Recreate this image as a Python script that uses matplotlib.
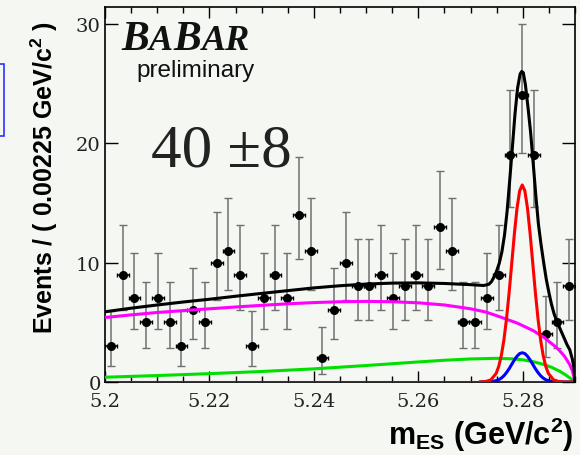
import numpy as np
import matplotlib
matplotlib.use("Agg")
import matplotlib.pyplot as plt
from matplotlib.ticker import MultipleLocator, FuncFormatter
from matplotlib.patches import Rectangle

plt.rcParams['mathtext.fontset'] = 'custom'
plt.rcParams['mathtext.rm'] = 'Liberation Sans:bold'
plt.rcParams['mathtext.bf'] = 'Liberation Sans:bold'
plt.rcParams['mathtext.it'] = 'Liberation Sans:bold'

# data: mES histogram, 40 bins of 0.00225 GeV from 5.2 to 5.29
bin_lo = 5.2
bin_w = 0.00225
counts = [3, 9, 7, 5, 7, 5, 3, 6, 5, 10, 11, 9, 3, 7, 9, 7, 14, 11, 2, 6,
          10, 8, 8, 9, 7, 8, 9, 8, 13, 11, 5, 5, 7, 9, 19, 24, 19, 4, 5, 8]
err_lo = [1.63, 2.94, 2.58, 2.16, 2.58, 2.16, 1.63, 2.38, 2.16, 3.11, 3.27, 2.94, 1.63, 2.58, 2.94, 2.58, 3.70, 3.27, 1.29, 2.38,
          3.11, 2.77, 2.77, 2.94, 2.58, 2.77, 2.94, 2.77, 3.56, 3.27, 2.16, 2.16, 2.58, 2.94, 4.32, 4.86, 4.32, 1.91, 2.16, 2.77]
err_hi = [2.92, 4.11, 3.77, 3.38, 3.77, 3.38, 2.92, 3.58, 3.38, 4.27, 4.42, 4.11, 2.92, 3.77, 4.11, 3.77, 4.83, 4.42, 2.64, 3.58,
          4.27, 3.94, 3.94, 4.11, 3.77, 3.94, 4.11, 3.94, 4.70, 4.42, 3.38, 3.38, 3.77, 4.11, 5.44, 5.97, 5.44, 3.16, 3.38, 3.94]

# fit curves
blk_x = [5.200, 5.205, 5.210, 5.215, 5.220, 5.225, 5.230, 5.235, 5.240, 5.245, 5.250, 5.255, 5.260, 5.265, 5.270,
         5.2725, 5.2735, 5.2740, 5.2745, 5.2750, 5.2755, 5.2760, 5.2765, 5.2770, 5.2775, 5.2780, 5.2785, 5.2790, 5.2795,
         5.2798, 5.2801, 5.2805, 5.2810, 5.2815, 5.2820, 5.2825, 5.2830, 5.2835, 5.2840, 5.2845, 5.2850, 5.2855, 5.2860,
         5.2865, 5.2870, 5.2875, 5.2880, 5.2885, 5.2890, 5.2895, 5.2898, 5.2900]
blk_y = [5.88, 6.18, 6.45, 6.70, 6.93, 7.18, 7.42, 7.65, 7.88, 8.06, 8.20, 8.28, 8.30, 8.25, 8.15,
         8.08, 8.18, 8.40, 8.80, 9.30, 9.95, 10.9, 12.3, 14.3, 16.9, 19.6, 22.4, 24.6, 25.8,
         26.0, 25.9, 24.9, 23.0, 20.9, 18.3, 15.6, 13.2, 11.5, 10.0, 8.6, 7.5, 6.5, 5.7,
         5.1, 4.6, 4.1, 3.6, 3.1, 2.7, 1.9, 1.2, 0.0]

mag_x = [5.200, 5.205, 5.210, 5.215, 5.220, 5.225, 5.230, 5.235, 5.240, 5.245, 5.250, 5.255, 5.260, 5.265, 5.270,
         5.273, 5.276, 5.279, 5.282, 5.284, 5.286, 5.287, 5.288, 5.289, 5.2895, 5.290]
mag_y = [5.40, 5.62, 5.82, 5.98, 6.13, 6.28, 6.42, 6.55, 6.65, 6.72, 6.75, 6.72, 6.63, 6.45, 6.13,
         5.85, 5.40, 4.92, 4.30, 3.75, 3.05, 2.65, 2.15, 1.45, 0.95, 0.0]

grn_x = [5.200, 5.210, 5.220, 5.230, 5.240, 5.250, 5.255, 5.260, 5.265, 5.270, 5.275, 5.278, 5.280, 5.282,
         5.284, 5.2855, 5.287, 5.288, 5.289, 5.2895, 5.290]
grn_y = [0.40, 0.54, 0.70, 0.88, 1.10, 1.38, 1.53, 1.68, 1.82, 1.93, 1.98, 1.94, 1.86, 1.70,
         1.47, 1.23, 0.92, 0.65, 0.35, 0.18, 0.0]

red_x = [5.2719, 5.2729, 5.2739, 5.2749, 5.2754, 5.2759, 5.2764, 5.2769, 5.2774, 5.2779, 5.2784, 5.2789, 5.2794,
         5.2799, 5.2804, 5.2809, 5.2814, 5.2819, 5.2824, 5.2829, 5.2834, 5.2839, 5.2844, 5.2849, 5.2859, 5.2869,
         5.2879, 5.2900]
red_y = [0, 0.04, 0.18, 0.72, 1.31, 2.23, 3.57, 5.36, 7.55, 10.0, 12.45, 14.56, 16.0,
         16.5, 16.0, 14.56, 12.45, 10.0, 7.55, 5.36, 3.57, 2.23, 1.31, 0.72, 0.18, 0.04,
         0, 0]
blu_y = [0, 0.01, 0.03, 0.11, 0.19, 0.33, 0.53, 0.80, 1.12, 1.49, 1.85, 2.16, 2.38,
         2.45, 2.38, 2.16, 1.85, 1.49, 1.12, 0.80, 0.53, 0.33, 0.19, 0.11, 0.03, 0.01,
         0, 0]

bg = '#f4f7f2'
fig = plt.figure(figsize=(5.8, 4.56), dpi=100, facecolor=bg)
ax = fig.add_axes([105/580, 73/456, 470/580, 375/456], facecolor=bg)

centers = bin_lo + bin_w*(np.arange(len(counts)) + 0.5)
ax.errorbar(centers, counts, yerr=[err_lo, err_hi], fmt='none', ecolor='#707070',
            elinewidth=1.1, capsize=3, capthick=1.0, zorder=2)
ax.errorbar(centers, counts, xerr=bin_w/2, fmt='o', color='black', ms=5.5,
            ecolor='black', elinewidth=1.1, capsize=1.5, capthick=1.0, zorder=3)

ax.plot([5.2, 5.29], [0, 0], color='#a0002a', lw=2.2, zorder=4, solid_capstyle='butt')
ax.plot(grn_x, grn_y, color='#00e000', lw=2.2, zorder=5)
ax.plot(mag_x, mag_y, color='#ff00ff', lw=2.2, zorder=5)
ax.plot(red_x, blu_y, color='#0000ff', lw=2.2, zorder=6)
ax.plot(red_x, red_y, color='#ff0000', lw=2.2, zorder=6)
ax.plot(blk_x, blk_y, color='black', lw=2.2, zorder=7)

ax.set_xlim(5.2, 5.29)
ax.set_ylim(0, 31.4)
ax.xaxis.set_major_locator(MultipleLocator(0.02))
ax.xaxis.set_minor_locator(MultipleLocator(0.005))
ax.yaxis.set_major_locator(MultipleLocator(10))
ax.xaxis.set_major_formatter(FuncFormatter(lambda v, p: '%g' % round(v, 3)))
ax.tick_params(axis='x', which='major', direction='in', top=True, length=8, width=1, pad=7)
ax.tick_params(axis='x', which='minor', direction='in', top=True, length=4.5, width=1)
ax.tick_params(axis='y', which='major', direction='in', right=True, length=9.5, width=1, pad=3)
for lab in ax.get_xticklabels() + ax.get_yticklabels():
    lab.set_fontfamily('DejaVu Serif')
    lab.set_fontsize(14)
    lab.set_color('#222222')
for s in ax.spines.values():
    s.set_linewidth(1.2)

def px(x, y):
    return x/580, 1 - y/456

# BaBar logo in small caps, letters laid one after another
renderer = fig.canvas.get_renderer()
x_cur = 121
for ch, sz in [('B', 30), ('A', 26), ('B', 30), ('AR', 26)]:
    t = fig.text(*px(x_cur, 49.5), ch, fontfamily='Liberation Serif', fontweight='bold',
                 fontstyle='italic', fontsize=sz, va='baseline', ha='left', color='#111111')
    x_cur = t.get_window_extent(renderer).x1 + 0.5
fig.text(*px(196, 77.5), 'preliminary', fontfamily='Liberation Sans', fontsize=17.5,
         ha='center', va='baseline', color='#111111')
fig.text(*px(151, 167), '40 \u00b18', fontfamily='Liberation Serif', fontsize=44,
         ha='left', va='baseline', color='#222222')

fig.text(*px(44, 177), r'Events / ( 0.00225 GeV/c$^{2}$ )', rotation=90, fontfamily='Liberation Sans',
         fontweight='bold', fontsize=18, ha='center', va='center')
fig.text(*px(573, 445), r'm$_{ES}$ (GeV/c$^{2}$)', fontfamily='Liberation Sans',
         fontweight='bold', fontsize=22, ha='right', va='baseline')

fig.patches.append(Rectangle(px(-10, 137), 14/580, 72/456, transform=fig.transFigure,
                             fill=False, edgecolor='#3030ff', lw=1.2))

fig.savefig('out.png', dpi=100, facecolor=bg)
